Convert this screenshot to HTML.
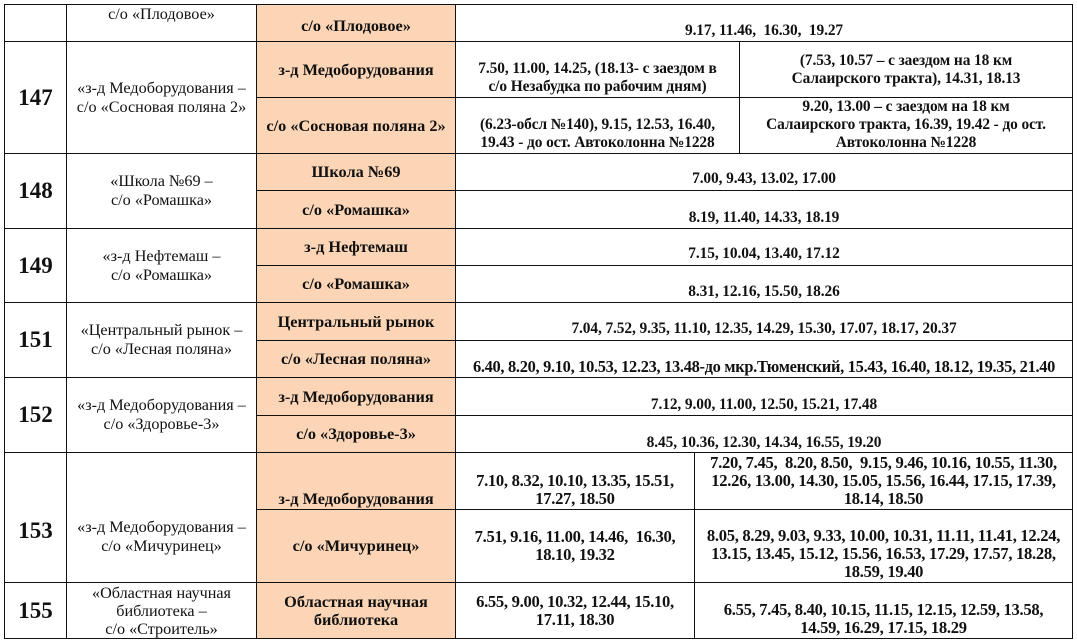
<!DOCTYPE html>
<html><head><meta charset="utf-8"><style>
*{margin:0;padding:0;box-sizing:border-box}
body{width:1077px;height:642px;background:#fff;position:relative;overflow:hidden;font-family:"Liberation Serif","DejaVu Serif",serif;color:#111}
.c{position:absolute;border:1px solid #111;display:flex;flex-direction:column;justify-content:center;align-items:center;text-align:center;line-height:18px;padding:0 2px;white-space:nowrap}
.o{background:#fbd5b6;font-weight:bold;font-size:16.3px}
.n{font-weight:bold;font-size:23px}
.r{font-size:16.2px;line-height:19px}
.d{font-weight:bold;font-size:15.4px;letter-spacing:-0.1px}
.e{font-size:16.6px;letter-spacing:-0.3px}
.b{justify-content:flex-end;padding-bottom:1px}
.t{justify-content:flex-start}
</style></head><body>
<!-- row 0 -->
<div class="c" style="left:4px;top:4px;width:63px;height:38px"></div>
<div class="c r t" style="left:66px;top:4px;width:191px;height:38px">с/о «Плодовое»</div>
<div class="c o b" style="left:256px;top:4px;width:200px;height:38px;padding-bottom:6px">с/о «Плодовое»</div>
<div class="c d b" style="left:455px;top:4px;width:618px;height:38px">9.17, 11.46,&nbsp; 16.30,&nbsp; 19.27</div>
<!-- 147 -->
<div class="c n" style="left:4px;top:41px;width:63px;height:113px">147</div>
<div class="c r" style="left:66px;top:41px;width:191px;height:113px">«з-д Медоборудования –<br>с/о «Сосновая поляна 2»</div>
<div class="c o" style="left:256px;top:41px;width:200px;height:57px">з-д Медоборудования</div>
<div class="c o" style="left:256px;top:97px;width:200px;height:57px">с/о «Сосновая поляна 2»</div>
<div class="c d b" style="left:455px;top:41px;width:285px;height:57px">7.50, 11.00, 14.25, (18.13- с заездом в<br>с/о Незабудка по рабочим дням)</div>
<div class="c d" style="left:739px;top:41px;width:334px;height:57px">(7.53, 10.57 – с заездом на 18 км<br>Салаирского тракта), 14.31, 18.13</div>
<div class="c d b" style="left:455px;top:97px;width:285px;height:57px">(6.23-обсл №140), 9.15, 12.53, 16.40,<br>19.43 - до ост. Автоколонна №1228</div>
<div class="c d b" style="left:739px;top:97px;width:334px;height:57px">9.20, 13.00 – с заездом на 18 км<br>Салаирского тракта, 16.39, 19.42 - до ост.<br>Автоколонна №1228</div>
<!-- 148 -->
<div class="c n" style="left:4px;top:153px;width:63px;height:76px">148</div>
<div class="c r" style="left:66px;top:153px;width:191px;height:76px">«Школа №69 –<br>с/о «Ромашка»</div>
<div class="c o" style="left:256px;top:153px;width:200px;height:38px">Школа №69</div>
<div class="c o" style="left:256px;top:190px;width:200px;height:39px">с/о «Ромашка»</div>
<div class="c d b" style="left:455px;top:153px;width:618px;height:38px;padding-bottom:2px">7.00, 9.43, 13.02, 17.00</div>
<div class="c d b" style="left:455px;top:190px;width:618px;height:39px">8.19, 11.40, 14.33, 18.19</div>
<!-- 149 -->
<div class="c n" style="left:4px;top:228px;width:63px;height:75px">149</div>
<div class="c r" style="left:66px;top:228px;width:191px;height:75px">«з-д Нефтемаш –<br>с/о «Ромашка»</div>
<div class="c o" style="left:256px;top:228px;width:200px;height:38px">з-д Нефтемаш</div>
<div class="c o" style="left:256px;top:265px;width:200px;height:38px">с/о «Ромашка»</div>
<div class="c d b" style="left:455px;top:228px;width:618px;height:38px;padding-bottom:2px">7.15, 10.04, 13.40, 17.12</div>
<div class="c d b" style="left:455px;top:265px;width:618px;height:38px">8.31, 12.16, 15.50, 18.26</div>
<!-- 151 -->
<div class="c n" style="left:4px;top:302px;width:63px;height:76px">151</div>
<div class="c r" style="left:66px;top:302px;width:191px;height:76px">«Центральный рынок –<br>с/о «Лесная поляна»</div>
<div class="c o" style="left:256px;top:302px;width:200px;height:39px">Центральный рынок</div>
<div class="c o" style="left:256px;top:340px;width:200px;height:38px">с/о «Лесная поляна»</div>
<div class="c d b" style="left:455px;top:302px;width:618px;height:39px;padding-bottom:2px">7.04, 7.52, 9.35, 11.10, 12.35, 14.29, 15.30, 17.07, 18.17, 20.37</div>
<div class="c d b" style="left:455px;top:340px;width:618px;height:38px;font-size:16.4px;letter-spacing:-0.3px">6.40, 8.20, 9.10, 10.53, 12.23, 13.48-до мкр.Тюменский, 15.43, 16.40, 18.12, 19.35, 21.40</div>
<!-- 152 -->
<div class="c n" style="left:4px;top:377px;width:63px;height:76px">152</div>
<div class="c r" style="left:66px;top:377px;width:191px;height:76px">«з-д Медоборудования –<br>с/о «Здоровье-3»</div>
<div class="c o" style="left:256px;top:377px;width:200px;height:39px">з-д Медоборудования</div>
<div class="c o" style="left:256px;top:415px;width:200px;height:38px">с/о «Здоровье-3»</div>
<div class="c d b" style="left:455px;top:377px;width:618px;height:39px;padding-bottom:1px">7.12, 9.00, 11.00, 12.50, 15.21, 17.48</div>
<div class="c d b" style="left:455px;top:415px;width:618px;height:38px;padding-bottom:0">8.45, 10.36, 12.30, 14.34, 16.55, 19.20</div>
<!-- 153 -->
<div class="c n" style="left:4px;top:452px;width:63px;height:131px;padding-top:26px">153</div>
<div class="c r" style="left:66px;top:452px;width:191px;height:131px;padding-top:38px">«з-д Медоборудования –<br>с/о «Мичуринец»</div>
<div class="c o b" style="left:256px;top:452px;width:200px;height:58px">з-д Медоборудования</div>
<div class="c o" style="left:256px;top:509px;width:200px;height:74px">с/о «Мичуринец»</div>
<div class="c d e b" style="left:455px;top:452px;width:240px;height:58px">7.10, 8.32, 10.10, 13.35, 15.51,<br>17.27, 18.50</div>
<div class="c d e b" style="left:694px;top:452px;width:379px;height:58px">7.20, 7.45,&nbsp; 8.20, 8.50,&nbsp; 9.15, 9.46, 10.16, 10.55, 11.30,<br>12.26, 13.00, 14.30, 15.05, 15.56, 16.44, 17.15, 17.39,<br>18.14, 18.50</div>
<div class="c d e" style="left:455px;top:509px;width:240px;height:74px">7.51, 9.16, 11.00, 14.46,&nbsp; 16.30,<br>18.10, 19.32</div>
<div class="c d e b" style="left:694px;top:509px;width:379px;height:74px">8.05, 8.29, 9.03, 9.33, 10.00, 10.31, 11.11, 11.41, 12.24,<br>13.15, 13.45, 15.12, 15.56, 16.53, 17.29, 17.57, 18.28,<br>18.59, 19.40</div>
<!-- 155 -->
<div class="c n" style="left:4px;top:582px;width:63px;height:57px">155</div>
<div class="c r" style="left:66px;top:582px;width:191px;height:57px;line-height:18px">«Областная научная<br>библиотека –<br>с/о «Строитель»</div>
<div class="c o" style="left:256px;top:582px;width:200px;height:57px">Областная научная<br>библиотека</div>
<div class="c d e" style="left:455px;top:582px;width:240px;height:57px">6.55, 9.00, 10.32, 12.44, 15.10,<br>17.11, 18.30</div>
<div class="c d e b" style="left:694px;top:582px;width:379px;height:57px">6.55, 7.45, 8.40, 10.15, 11.15, 12.15, 12.59, 13.58,<br>14.59, 16.29, 17.15, 18.29</div>
</body></html>
